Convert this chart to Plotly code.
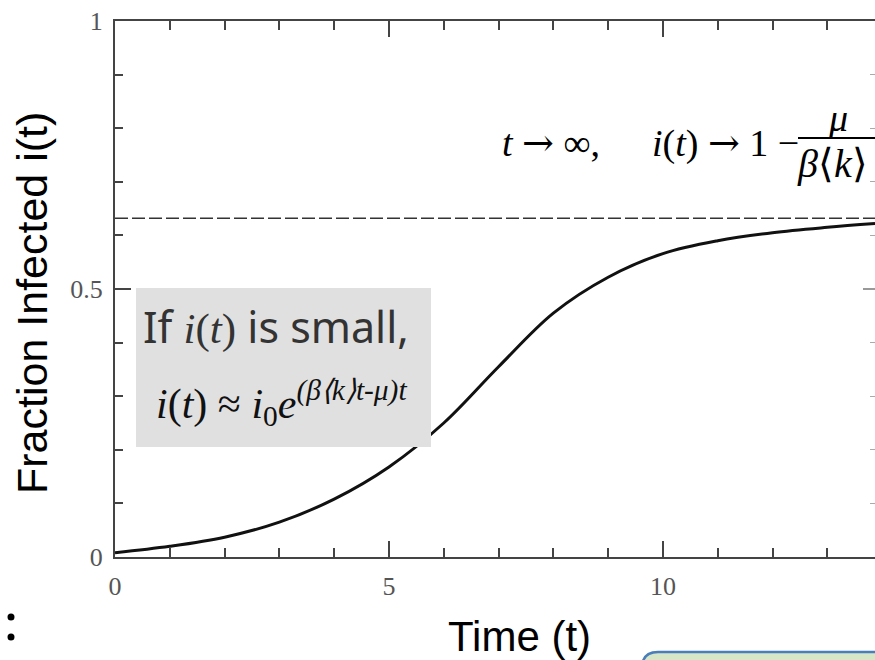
import plotly.graph_objects as go

# ---- data ----
time_t = [0, 1, 2, 3, 4, 5, 6, 7, 8, 9, 10, 11, 12, 13, 13.87]
infected = [0.008, 0.020, 0.037, 0.065, 0.108, 0.168, 0.250, 0.355, 0.455,
            0.522, 0.566, 0.590, 0.605, 0.615, 0.622]
asymptote = 0.632
x_range = [0, 13.87]
y_range = [0, 1]
x_ticks = [0, 5, 10]
y_ticks = [0, 0.5, 1]
y_tick_labels = ["0", "0.5", "1"]
x_tick_labels = ["0", "5", "10"]

# ---- layout helpers (pixel -> paper) ----
L, R, T, B = 115, 875, 21, 557
def px(x):
    return (x - L) / (R - L)
def py(y):
    return (B - y) / (B - T)

AX = "#444444"
fig = go.Figure()

fig.add_trace(go.Scatter(x=x_range, y=[asymptote, asymptote], mode="lines",
                         line=dict(color="#333333", width=1.6, dash="13px,4px"),
                         hoverinfo="skip", showlegend=False))
fig.add_trace(go.Scatter(x=time_t, y=infected, mode="lines",
                         line=dict(color="#111111", width=3, shape="spline"),
                         hoverinfo="skip", showlegend=False))
# invisible trace for the right-hand tick axis
fig.add_trace(go.Scatter(x=[x_range[0]], y=[y_range[0]], yaxis="y2", mode="markers",
                         marker=dict(opacity=0), hoverinfo="skip", showlegend=False))

serif = "Liberation Serif"
sans = "Liberation Sans"

fig.update_layout(
    width=875, height=660, autosize=False,
    margin=dict(l=L, r=875 - R, t=T, b=660 - B, autoexpand=False),
    plot_bgcolor="white", paper_bgcolor="white",
    xaxis=dict(range=x_range, showgrid=False, zeroline=False, automargin=False,
               showline=True, linecolor=AX, linewidth=2, mirror="ticks",
               ticks="inside", ticklen=16, tickwidth=2, tickcolor=AX,
               tickvals=x_ticks, ticktext=x_tick_labels,
               minor=dict(ticks="inside", ticklen=9, tickwidth=1.5, tickcolor=AX,
                          dtick=1, tick0=0, showgrid=False),
               tickfont=dict(family=serif, size=26, color="#555555"),
               ticklabelstandoff=5),
    yaxis=dict(range=y_range, showgrid=False, zeroline=False, automargin=False,
               showline=True, linecolor=AX, linewidth=2,
               ticks="inside", ticklen=16, tickwidth=2, tickcolor=AX,
               tickvals=y_ticks, ticktext=y_tick_labels,
               minor=dict(ticks="inside", ticklen=8, tickwidth=1.5, tickcolor=AX,
                          dtick=0.1, tick0=0, showgrid=False),
               tickfont=dict(family=serif, size=26, color="#555555"),
               ticklabelstandoff=5),
    yaxis2=dict(range=y_range, overlaying="y", side="right", showgrid=False,
                zeroline=False, showline=False, showticklabels=False, automargin=False,
                ticks="inside", ticklen=12, tickwidth=1.5, tickcolor="#999999",
                tickvals=y_ticks,
                minor=dict(ticks="inside", ticklen=5, tickwidth=1, tickcolor="#aaaaaa",
                           dtick=0.1, tick0=0, showgrid=False)),
)

shapes = []
# grey call-out box
shapes.append(dict(type="rect", xref="paper", yref="paper",
                   x0=px(136), x1=px(431), y0=py(447), y1=py(288),
                   fillcolor="#e0e0e0", line=dict(width=0), layer="above"))
# fraction bar
shapes.append(dict(type="line", xref="paper", yref="paper",
                   x0=px(798), x1=px(900), y0=py(138), y1=py(138),
                   line=dict(color="black", width=2)))
# bullets
for by in (617, 637):
    shapes.append(dict(type="circle", xref="paper", yref="paper",
                       x0=px(7.5), x1=px(14.5), y0=py(by + 3.5), y1=py(by - 3.5),
                       fillcolor="black", line=dict(width=0)))
# rounded green box at bottom right (partially visible)
r = 16
path = (f"M {px(642)},{py(700)} L {px(642)},{py(652 + r)} "
        f"Q {px(642)},{py(652)} {px(642 + r)},{py(652)} "
        f"L {px(900)},{py(652)} L {px(900)},{py(700)} Z")
shapes.append(dict(type="path", xref="paper", yref="paper", path=path,
                   fillcolor="#d8e6c8", line=dict(color="#4a7ebb", width=2.5)))
fig.update_layout(shapes=shapes)

ann = []
def add(text, x, y, size, family, color="black", xanchor="left", angle=0):
    ann.append(dict(text=text, x=px(x), y=py(y), xref="paper", yref="paper",
                    xanchor=xanchor, yanchor="middle", showarrow=False,
                    textangle=angle, font=dict(family=family, size=size, color=color)))

ARROW = "<span style='font-family:DejaVu Serif'>→</span>"
add(f"<i>t</i> {ARROW} ∞,", 500, 143, 38, serif)
add(f"<i>i</i>(<i>t</i>) {ARROW} 1 −", 650, 143, 38, serif)
add("<i>μ</i>", 838, 118, 38, serif, xanchor="center")
add("<i>β</i>⟨<i>k</i>⟩", 795, 164, 40, serif)

add("If <span style='font-family:Liberation Serif'><i>i</i>(<i>t</i>)</span> is small,",
    141, 327, 43, "Noto Sans", color="#333333")
add("<i>i</i>(<i>t</i>) ≈ <i>i</i><sub>0</sub><i>e</i><sup><i>(β⟨k⟩t-μ)t</i></sup>",
    154, 403, 42, serif, color="#111111")

add("Fraction Infected i(t)", 32, 303, 43, sans, xanchor="center", angle=-90)
add("Time (t)", 519, 636, 42, sans, xanchor="center")

fig.update_layout(annotations=ann)
fig.write_html("out.html",
               config={"displayModeBar": False},
               post_script="document.body.style.margin='0';"
                           "document.body.style.overflow='hidden';")
